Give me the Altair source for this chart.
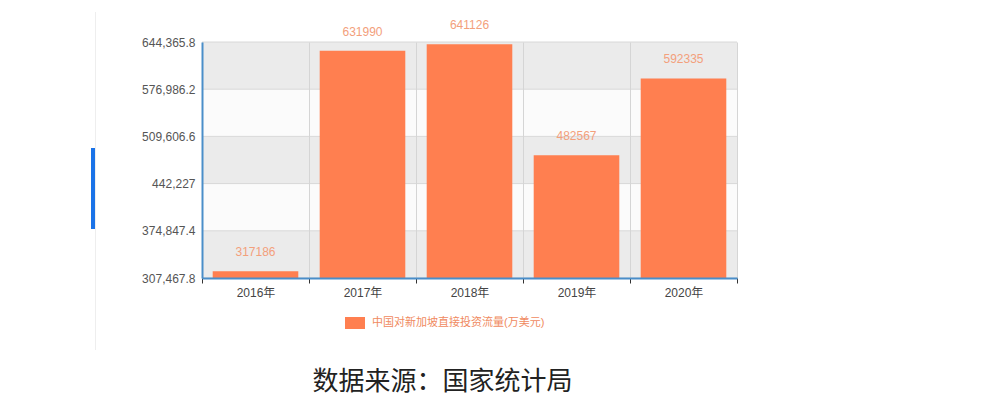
import altair as alt
import pandas as pd

years = ["2016年", "2017年", "2018年", "2019年", "2020年"]
values = [317186, 631990, 641126, 482567, 592335]
ticks = [307467.8, 374847.4, 442227, 509606.6, 576986.2, 644365.8]
series_name = "中国对新加坡直接投资流量(万美元)"
source_text = "数据来源：国家统计局"

FONT = "Liberation Sans, Noto Sans CJK SC, sans-serif"
BAR = "#ff7f50"

bars_df = pd.DataFrame({"year": years, "value": values, "series": series_name})
stripe_df = pd.DataFrame({
    "lo": ticks[:-1],
    "hi": ticks[1:],
    "fill": ["#ebebeb" if i % 2 == 0 else "#fbfbfb" for i in range(len(ticks) - 1)],
})
grid_df = pd.DataFrame({"t": ticks})

ydom = [ticks[0], ticks[-1]]
yscale = alt.Scale(domain=ydom, nice=False, zero=False)
xscale = alt.Scale(domain=years, paddingInner=0, paddingOuter=0)

yaxis = alt.Axis(title=None, values=ticks, format=",.1~f", grid=False,
                 ticks=False, domainColor="#4a8ec9", domainWidth=2,
                 labelFont=FONT, labelFontSize=12, labelColor="#555555",
                 labelPadding=7, zindex=1)
xaxis = alt.Axis(title=None, labelAngle=0, tickBand="extent", grid=True,
                 gridColor="#d5d5d5", domainColor="#4a8ec9", domainWidth=2,
                 tickColor="#333333", tickSize=5, labelFont=FONT,
                 labelFontSize=12, labelColor="#444444", labelPadding=4,
                 zindex=1)

stripes = alt.Chart(stripe_df).mark_rect().encode(
    x=alt.value(0),
    x2=alt.value(535),
    y=alt.Y("lo:Q", scale=yscale, axis=yaxis),
    y2="hi:Q",
    fill=alt.Fill("fill:N", scale=None),
)

grid = alt.Chart(grid_df).mark_rule(color="#d8d8d8", strokeWidth=1).encode(
    y=alt.Y("t:Q", scale=yscale, axis=yaxis),
)

bars = alt.Chart(bars_df).mark_bar(width=alt.RelativeBandSize(0.8)).encode(
    x=alt.X("year:N", scale=xscale, sort=years, axis=xaxis),
    y=alt.Y("value:Q", scale=yscale, axis=yaxis),
    y2=alt.datum(ticks[0]),
    color=alt.Color("series:N", scale=alt.Scale(range=[BAR]),
                    legend=alt.Legend(title=None, orient="none", legendX=143, legendY=271,
                                      symbolType="M-1,-0.6H1V0.6H-1Z", symbolSize=400,
                                      symbolStrokeWidth=0, labelColor="#f08a60",
                                      labelFont=FONT, labelFontSize=11, labelOffset=7,
                                      labelLimit=500)),
)

labels = alt.Chart(bars_df).mark_text(
    baseline="bottom", dy=-12, font=FONT, fontSize=12, color="#f3a07c"
).encode(
    x=alt.X("year:N", scale=xscale, sort=years, axis=xaxis),
    y=alt.Y("value:Q", scale=yscale, axis=yaxis),
    text=alt.Text("value:Q", format="d"),
)

deco_line = alt.Chart(bars_df).mark_rule(color="#eeeeee", strokeWidth=1).encode(
    x=alt.value(-106.5), y=alt.value(-30), y2=alt.value(308)
)
deco_blue = alt.Chart(bars_df).mark_rule(color="#1a73e8", strokeWidth=4).encode(
    x=alt.value(-109), y=alt.value(106), y2=alt.value(187)
)

chart = alt.layer(stripes, grid, bars, labels, deco_line, deco_blue).properties(
    width=535,
    height=236,
    autosize=alt.AutoSizeParams(type="none"),
    padding={"left": 194, "top": 34, "right": 250, "bottom": 120},
    title=alt.TitleParams(source_text, orient="bottom", anchor="middle", dx=-27,
                          offset=18, font="Noto Sans CJK SC", fontSize=26,
                          fontWeight="normal", color="#222222"),
).configure_view(stroke=None)

chart.save("out.html", embed_options={"renderer": "svg", "actions": False})
